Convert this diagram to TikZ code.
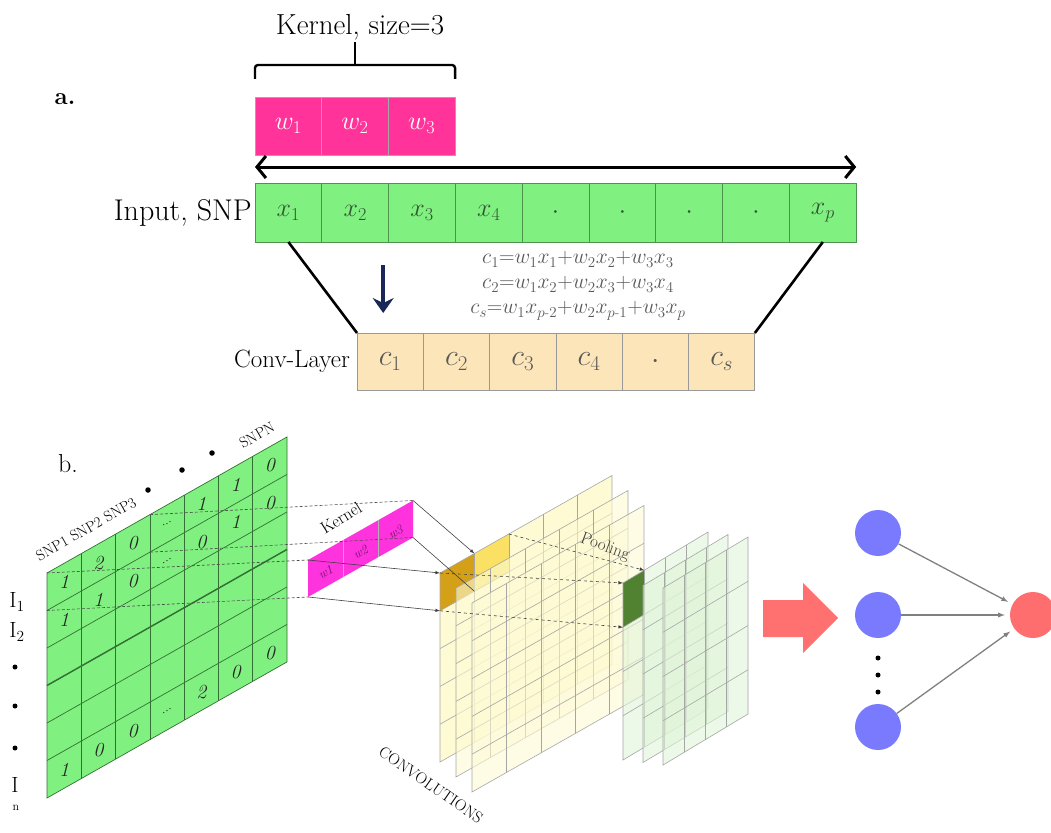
\RequirePackage{fix-cm}
\documentclass[tikz,border=0pt]{standalone}
\usepackage{amsmath}
\usetikzlibrary{positioning, arrows, arrows.meta, calc}

\definecolor{kernpink}{RGB}{255,51,153}
\definecolor{snpgreen}{RGB}{128,240,128}
\definecolor{convtan}{RGB}{252,230,185}
\definecolor{kernmag}{RGB}{255,51,221}
\definecolor{kertext}{RGB}{110,20,110}
\definecolor{convyel}{RGB}{253,250,212}
\definecolor{poolgrn}{RGB}{224,244,216}
\definecolor{hotcell}{RGB}{212,160,23}
\definecolor{warmcell}{RGB}{250,225,100}
\definecolor{poolcell}{RGB}{80,130,50}
\definecolor{flowred}{RGB}{255,112,112}
\definecolor{hidblue}{RGB}{122,122,255}
\definecolor{outred}{RGB}{255,110,110}
\definecolor{navyarrow}{RGB}{25,40,90}
\definecolor{xtext}{RGB}{50,85,50}

\begin{document}
\begin{tikzpicture}[x=1pt, y=-1pt,
		wcell/.style={rectangle, draw=black!35, line width=0.8pt, fill=kernpink, minimum width=66.7pt, minimum height=58pt, inner sep=0pt, outer sep=0pt, text=white, font=\fontsize{26}{28}\selectfont},
		xcell/.style={wcell, draw=green!40!black!70, fill=snpgreen, minimum width=66.8pt, minimum height=59pt, text=xtext},
		ccell/.style={wcell, draw=black!40, fill=convtan, minimum width=66.3pt, minimum height=57pt, text=black!65, font=\fontsize{30}{32}\selectfont},
		rowlabel/.style={font=\fontsize{30}{32}\selectfont, inner sep=0pt},
		bracket/.style={line width=2.4pt, rounded corners=3pt},
		slide/.style={{Straight Barb[length=9pt, width=22pt]}-{Straight Barb[length=9pt, width=22pt]}, line width=3pt},
		funnel/.style={line width=2.6pt},
		drop/.style={-{Stealth[length=15pt, width=21pt, inset=5pt]}, line width=4.5pt, navyarrow},
		formula/.style={text=black!65, align=center, font=\fontsize{21.5}{25}\selectfont, inner sep=0pt},
		gridline/.style={draw=green!30!black!80, line width=0.7pt},
		snpval/.style={font=\fontsize{20}{21}\selectfont\itshape, text=black!85, inner sep=0pt},
		snplabel/.style={font=\fontsize{15}{16}\selectfont, inner sep=0pt, rotate=29.5},
		idlabel/.style={font=\fontsize{22}{23}\selectfont, inner sep=0pt},
		bigdot/.style={circle, fill=black, minimum size=5.5pt, inner sep=0pt},
		window/.style={densely dashed, line width=0.6pt, black!70},
		project/.style={-latex, line width=0.6pt, black!75},
		poolarrow/.style={-latex, dashed, line width=0.6pt, black!75},
		convgrid/.style={draw=black!35, line width=0.6pt},
		hidden/.style={circle, fill=hidblue, minimum size=46pt, inner sep=0pt},
		outnode/.style={circle, fill=outred, minimum size=46pt, inner sep=0pt},
		dotnode/.style={circle, fill=black, minimum size=5pt, inner sep=0pt},
		link/.style={-latex, line width=1.3pt, black!50, shorten >=5pt}
		]

		\useasboundingbox (0,0) rectangle (1051,832);

		\node[font=\fontsize{24}{26}\selectfont\bfseries] (alabel) at (65,99) {a.};
		\node[font=\fontsize{29}{30}\selectfont] (ktitle) at (360,27) {Kernel, size=3};

		\node[wcell] (w1) at (288.3,126) {$w_1$};
		\node[wcell, right=0pt of w1] (w2) {$w_2$};
		\node[wcell, right=0pt of w2] (w3) {$w_3$};
		\draw[bracket] ([yshift=18pt]w1.north west) -- ([yshift=32pt]w1.north west) -- ([yshift=32pt]w3.north east) -- ([yshift=18pt]w3.north east);
		\draw[bracket] ([yshift=55pt]w2.north) -- ([yshift=32pt]w2.north);

		\node[xcell] (x1) at (288.4,212.5) {$x_1$};
		\node[xcell, right=0pt of x1] (x2) {$x_2$};
		\node[xcell, right=0pt of x2] (x3) {$x_3$};
		\node[xcell, right=0pt of x3] (x4) {$x_4$};
		\node[xcell, right=0pt of x4] (d1) {$\cdot$};
		\node[xcell, right=0pt of d1] (d2) {$\cdot$};
		\node[xcell, right=0pt of d2] (d3) {$\cdot$};
		\node[xcell, right=0pt of d3] (d4) {$\cdot$};
		\node[xcell, right=0pt of d4] (xp) {$x_p$};
		\node[rowlabel, left=3pt of x1] (inlabel) {Input, SNP};
		\draw[slide] ([yshift=16pt]x1.north west) -- ([yshift=16pt]xp.north east);

		\node[ccell] (c1) at (390.2,361.5) {$c_1$};
		\node[ccell, right=0pt of c1] (c2) {$c_2$};
		\node[ccell, right=0pt of c2] (c3) {$c_3$};
		\node[ccell, right=0pt of c3] (c4) {$c_4$};
		\node[ccell, right=0pt of c4] (cd) {$\cdot$};
		\node[ccell, right=0pt of cd] (cs) {$c_s$};
		\node[rowlabel, font=\fontsize{25}{27}\selectfont, left=7pt of c1] (convlabel) {Conv-Layer};
		\draw[funnel] (x1.south) -- (c1.north west);
		\draw[funnel] (xp.south) -- (cs.north east);
		\draw[drop] ([xshift=-7pt, yshift=68pt]c1.north) -- ([xshift=-7pt, yshift=20pt]c1.north);
		\node[formula] (eqs) at (578,286) {$c_1{=}w_1x_1{+}w_2x_2{+}w_3x_3$\\$c_2{=}w_1x_2{+}w_2x_3{+}w_3x_4$\\$c_s{=}w_1x_{p\text{-}2}{+}w_2x_{p\text{-}1}{+}w_3x_p$};

		\node[font=\fontsize{26}{28}\selectfont] (blabel) at (68,464) {b.};

		\begin{scope}[shift={(47,573)}, yslant=0.567]
			\fill[snpgreen] (0,0) rectangle (240,225);
			\foreach \i in {1,...,6} \draw[gridline] (\i*34.29,0) -- (\i*34.29,225);
			\foreach \j in {1,...,5} \draw[gridline] (0,\j*37.5) -- (240,\j*37.5);
			\draw[gridline, line width=1.4pt] (0,112.5) -- (240,112.5);
			\draw[gridline] (0,0) rectangle (240,225);
			\foreach \i/\v in {0/1,1/2,2/0,4/1,5/1,6/0} \node[snpval] (ra\i) at (\i*34.29+17.1,18.75) {\v};
			\foreach \i/\v in {0/1,1/1,2/0,4/0,5/1,6/0} \node[snpval] (rb\i) at (\i*34.29+17.1,56.25) {\v};
			\foreach \i/\v in {0/1,1/0,2/0,4/2,5/0,6/0} \node[snpval] (rc\i) at (\i*34.29+17.1,206.25) {\v};
			\node[snpval, font=\fontsize{13}{13}\selectfont, rotate=30] (ra3) at (3*34.29+17.1,18.75) {...};
			\node[snpval, font=\fontsize{13}{13}\selectfont, rotate=30] (rb3) at (3*34.29+17.1,56.25) {...};
			\node[snpval, font=\fontsize{13}{13}\selectfont, rotate=30] (rc3) at (3*34.29+17.1,206.25) {...};
			\coordinate (win-tl) at (0,0);
			\coordinate (win-tr) at (102.9,0);
			\coordinate (win-br) at (102.9,37.5);
			\coordinate (win-bl) at (0,37.5);
		\end{scope}

		\node[snplabel] (snphead) at (86,529) {SNP1 SNP2 SNP3};
		\node[snplabel] (snpn) at (257,435) {SNPN};
		\node[bigdot] (m1) at (148,490) {};
		\node[bigdot] (m2) at (182,470) {};
		\node[bigdot] (m3) at (212,453) {};

		\node[idlabel] (i1) at (17,602) {I$_1$};
		\node[idlabel] (i2) at (17,632) {I$_2$};
		\node[dotnode] (v1) at (15,667) {};
		\node[dotnode] (v2) at (15,706) {};
		\node[dotnode] (v3) at (15,748) {};
		\node[idlabel] (in) at (15,785) {I};
		\node[font=\fontsize{12}{12}\selectfont] (insub) at (16,808) {n};

		\begin{scope}[shift={(308,560)}, yslant=0.567]
			\fill[kernmag] (0,0) rectangle (105,37);
			\draw[black!30, line width=0.5pt] (35,0) -- (35,37) (70,0) -- (70,37);
			\node[font=\fontsize{13}{14}\selectfont\itshape, text=kertext, rotate=30] (kw1) at (17.5,22) {w1};
			\node[font=\fontsize{13}{14}\selectfont\itshape, text=kertext, rotate=30] (kw2) at (52.5,22) {w2};
			\node[font=\fontsize{13}{14}\selectfont\itshape, text=kertext, rotate=30] (kw3) at (87.5,22) {w3};
			\coordinate (ker-tl) at (0,0);
			\coordinate (ker-tr) at (105,0);
			\coordinate (ker-br) at (105,37);
			\coordinate (ker-bl) at (0,37);
		\end{scope}
		\node[font=\fontsize{17}{18}\selectfont, rotate=32] (kerlabel) at (341,518) {Kernel};

		\draw[window] (win-tl) -- (ker-tl);
		\draw[window] (win-tr) -- (ker-tr);
		\draw[window] (win-br) -- (ker-br);
		\draw[window] (win-bl) -- (ker-bl);

		\begin{scope}[shift={(440,573)}, yslant=0.567]
			\fill[convyel] (0,0) rectangle (172,189);
			\fill[hotcell] (0,0) rectangle (34.4,37.8);
			\fill[warmcell] (34.4,0) rectangle (68.8,37.8);
			\foreach \i in {1,...,4} \draw[convgrid] (\i*34.4,0) -- (\i*34.4,189);
			\foreach \j in {1,...,4} \draw[convgrid] (0,\j*37.8) -- (172,\j*37.8);
			\draw[convgrid] (0,0) rectangle (172,189);
			\coordinate (conv-tl) at (0,0);
			\coordinate (conv-tm) at (34.4,0);
			\coordinate (conv-tr) at (68.8,0);
			\coordinate (conv-bl) at (0,37.8);
			\coordinate (conv-bm) at (34.4,37.8);
		\end{scope}
		\foreach \k in {1,2} {
			\begin{scope}[shift={({440+16*\k},{573+15*\k})}, yslant=0.567]
				\fill[convyel, fill opacity=0.6] (0,0) rectangle (172,189);
				\foreach \i in {1,...,4} \draw[convgrid] (\i*34.4,0) -- (\i*34.4,189);
				\foreach \j in {1,...,4} \draw[convgrid] (0,\j*37.8) -- (172,\j*37.8);
				\draw[convgrid] (0,0) rectangle (172,189);
			\end{scope}
		}
		\node[font=\fontsize{16}{17}\selectfont, rotate=-35] (convtag) at (431,785) {CONVOLUTIONS};

		\draw[project] (ker-tr) -- (conv-tm);
		\draw[project] (ker-tl) -- (conv-tl);
		\draw[project] (ker-bl) -- (conv-bl);
		\draw[line width=0.6pt, black!75] (ker-br) -- (conv-bm);

		\foreach \k in {0,1,2} {
			\begin{scope}[shift={({623+20*\k},{583+2.5*\k})}, yslant=0.6]
				\fill[poolgrn, fill opacity=0.6] (0,0) rectangle (85,177);
				\ifnum\k=0 \fill[poolcell] (0,0) rectangle (21.25,44.25); \fi
				\foreach \i in {1,...,3} \draw[convgrid] (\i*21.25,0) -- (\i*21.25,177);
				\foreach \j in {1,...,3} \draw[convgrid] (0,\j*44.25) -- (85,\j*44.25);
				\draw[convgrid] (0,0) rectangle (85,177);
			\end{scope}
		}
		\begin{scope}[shift={(623,583)}, yslant=0.6]
			\coordinate (pool-tl) at (0,0);
			\coordinate (pool-tr) at (21.25,0);
			\coordinate (pool-bl) at (0,44.25);
		\end{scope}

		\draw[poolarrow] (conv-tr) -- node[pos=0.68, above=1pt, sloped, rotate=-5, font=\fontsize{17}{18}\selectfont] (pooltag) {Pooling} (pool-tr);
		\draw[poolarrow] (conv-tl) -- (pool-tl);
		\draw[poolarrow] (conv-bl) -- (pool-bl);

		\fill[flowred] (763,600) -- (803,600) -- (803,583) -- (838,618) -- (803,653) -- (803,637) -- (763,637) -- cycle;

		\node[hidden] (h1) at (878,533) {};
		\node[hidden] (h2) at (878,615) {};
		\node[hidden] (h3) at (878,727) {};
		\node[dotnode] (e1) at (878,658) {};
		\node[dotnode] (e2) at (878,675) {};
		\node[dotnode] (e3) at (878,692) {};
		\node[outnode] (out) at (1033,615) {};
		\draw[link] (h1) -- (out);
		\draw[link] (h2) -- (out);
		\draw[link] (h3) -- (out);
	\end{tikzpicture}
\end{document}
